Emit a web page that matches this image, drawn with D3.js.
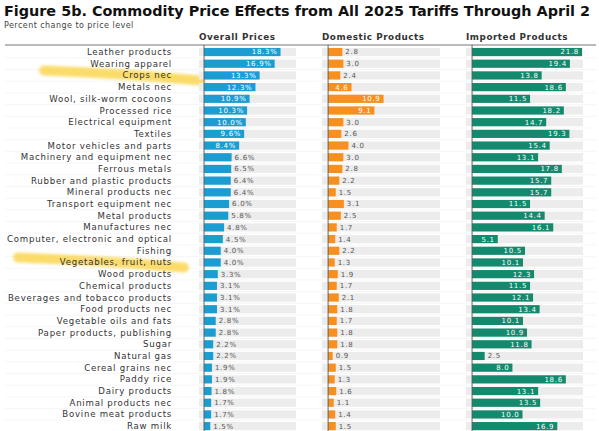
<!DOCTYPE html>
<html>
<head>
<meta charset="utf-8">
<script src="https://cdn.jsdelivr.net/npm/d3@7"></script>
<style>
  body { margin: 0; background: #fff; }
  svg { display: block; font-family: "DejaVu Sans", sans-serif; }
</style>
</head>
<body>
<div id="chart"></div>
<script>
// Data, top to bottom
const commodities = [
  "Leather products", "Wearing apparel", "Crops nec", "Metals nec",
  "Wool, silk-worm cocoons", "Processed rice", "Electrical equipment", "Textiles",
  "Motor vehicles and parts", "Machinery and equipment nec", "Ferrous metals",
  "Rubber and plastic products", "Mineral products nec", "Transport equipment nec",
  "Metal products", "Manufactures nec", "Computer, electronic and optical", "Fishing",
  "Vegetables, fruit, nuts", "Wood products", "Chemical products",
  "Beverages and tobacco products", "Food products nec", "Vegetable oils and fats",
  "Paper products, publishing", "Sugar", "Natural gas", "Cereal grains nec",
  "Paddy rice", "Dairy products", "Animal products nec", "Bovine meat products", "Raw milk"
];
const overallPrices = [18.3, 16.9, 13.3, 12.3, 10.9, 10.3, 10.0, 9.6, 8.4, 6.6, 6.5,
  6.4, 6.4, 6.0, 5.8, 4.8, 4.5, 4.0, 4.0, 3.3, 3.1, 3.1, 3.1, 2.8, 2.8, 2.2, 2.2,
  1.9, 1.9, 1.8, 1.7, 1.7, 1.5];
const domesticProducts = [2.8, 3.0, 2.4, 4.6, 10.9, 9.1, 3.0, 2.6, 4.0, 3.0, 2.8,
  2.2, 1.5, 3.1, 2.5, 1.7, 1.4, 2.2, 1.3, 1.9, 1.7, 2.1, 1.8, 1.7, 1.8, 1.8, 0.9,
  1.5, 1.3, 1.6, 1.1, 1.4, 1.5];
const importedProducts = [21.8, 19.4, 13.8, 18.6, 11.5, 18.2, 14.7, 19.3, 15.4, 13.1, 17.8,
  15.7, 15.7, 11.5, 14.4, 16.1, 5.1, 10.5, 10.1, 12.3, 11.5, 12.1, 13.4, 10.1, 10.9, 11.8, 2.5,
  8.0, 18.6, 13.1, 13.5, 10.0, 16.9];
const highlighted = ["Crops nec", "Vegetables, fruit, nuts"];

const width = 599, height = 431;

const columns = [
  { title: "Overall Prices", values: overallPrices, color: "#1c9dd2", suffix: "%", range: [199, 296] },
  { title: "Domestic Products", values: domesticProducts, color: "#f7901e", suffix: "", range: [322, 440] },
  { title: "Imported Products", values: importedProducts, color: "#138a6e", suffix: "", range: [466, 583] }
];

const svg = d3.select("#chart")
  .append("svg")
  .attr("width", width)
  .attr("height", height);

// Title + subtitle
svg.append("text")
  .attr("x", 4)
  .attr("y", 16)
  .attr("font-size", 14.5)
  .attr("font-weight", "bold")
  .attr("fill", "#111")
  .attr("textLength", 586)
  .attr("lengthAdjust", "spacingAndGlyphs")
  .text("Figure 5b. Commodity Price Effects from All 2025 Tariffs Through April 2");

svg.append("text")
  .attr("x", 4)
  .attr("y", 28)
  .attr("font-size", 8)
  .attr("letter-spacing", 0.45)
  .attr("fill", "#444")
  .text("Percent change to price level");

const y = d3.scaleBand()
  .domain(commodities)
  .range([46.2, 46.2 + commodities.length * 11.69])
  .paddingInner(0.3)
  .paddingOuter(0.15);

const step = y.step();

// row separators
svg.append("g")
  .selectAll("line")
  .data(commodities.slice(1))
  .join("line")
  .attr("x1", 5)
  .attr("x2", 596)
  .attr("y1", d => y(d) - (step - y.bandwidth()) / 2)
  .attr("y2", d => y(d) - (step - y.bandwidth()) / 2)
  .attr("stroke", "#f0f0f0")
  .attr("stroke-width", 0.6);

// highlighter strokes behind the labels
const defs = svg.append("defs");
defs.append("filter").attr("id", "soft")
  .append("feGaussianBlur").attr("stdDeviation", 1.4);

const marker = svg.append("g").attr("filter", "url(#soft)");
highlighted.forEach(name => {
  const cy = y(name) + y.bandwidth() / 2;
  const x0 = name === "Crops nec" ? 44 : 18;
  const x1 = name === "Crops nec" ? 200 : 184;
  marker.append("path")
    .attr("d", `M${x0},${cy - 5} Q${(x0 + x1) / 2},${cy - 2} ${x1},${cy + 5}`)
    .attr("fill", "none")
    .attr("stroke", "#f9d03a")
    .attr("stroke-opacity", 0.75)
    .attr("stroke-width", 10)
    .attr("stroke-linecap", "round");
});

// category labels
svg.append("g")
  .selectAll("text")
  .data(commodities)
  .join("text")
  .attr("x", 172)
  .attr("y", d => y(d) + y.bandwidth() / 2)
  .attr("dy", "0.35em")
  .attr("text-anchor", "end")
  .attr("font-size", 8.6)
  .attr("letter-spacing", 0.75)
  .attr("fill", "#333")
  .text(d => d);

// header rule
svg.append("line")
  .attr("x1", 5).attr("x2", 596)
  .attr("y1", 45).attr("y2", 45)
  .attr("stroke", "#777")
  .attr("stroke-width", 1.2);

columns.forEach(col => {
  const x = d3.scaleLinear().domain([-1.2, 22]).range(col.range);
  const g = svg.append("g");

  g.append("text")
    .attr("x", col.range[0])
    .attr("y", 40)
    .attr("font-size", 8.8)
    .attr("font-weight", "bold")
    .attr("letter-spacing", 0.55)
    .attr("fill", "#333")
    .text(col.title);

  // grey track
  g.selectAll("rect.track")
    .data(commodities)
    .join("rect")
    .attr("class", "track")
    .attr("x", col.range[0])
    .attr("y", d => y(d))
    .attr("width", col.range[1] - col.range[0])
    .attr("height", y.bandwidth())
    .attr("fill", "#ececec");

  // bars
  g.selectAll("rect.bar")
    .data(col.values)
    .join("rect")
    .attr("class", "bar")
    .attr("x", x(0))
    .attr("y", (d, i) => y(commodities[i]))
    .attr("width", d => x(d) - x(0))
    .attr("height", y.bandwidth())
    .attr("fill", col.color);

  // zero axis
  g.append("line")
    .attr("x1", x(0)).attr("x2", x(0))
    .attr("y1", 45).attr("y2", height)
    .attr("stroke", "#555")
    .attr("stroke-width", 0.9);

  // value labels
  g.selectAll("text.val")
    .data(col.values)
    .join("text")
    .attr("class", "val")
    .attr("y", (d, i) => y(commodities[i]) + y.bandwidth() / 2)
    .attr("dy", "0.35em")
    .attr("font-size", 7)
    .attr("letter-spacing", 0.7)
    .text(d => d.toFixed(1) + col.suffix)
    .each(function (d) {
      const t = d3.select(this);
      const w = this.getComputedTextLength();
      const barW = x(d) - x(0);
      if (barW > w + 9) {
        t.attr("x", x(d) - 3).attr("text-anchor", "end").attr("fill", "#fff");
      } else {
        t.attr("x", x(d) + 3).attr("text-anchor", "start").attr("fill", "#555");
      }
    });
});
</script>
</body>
</html>
